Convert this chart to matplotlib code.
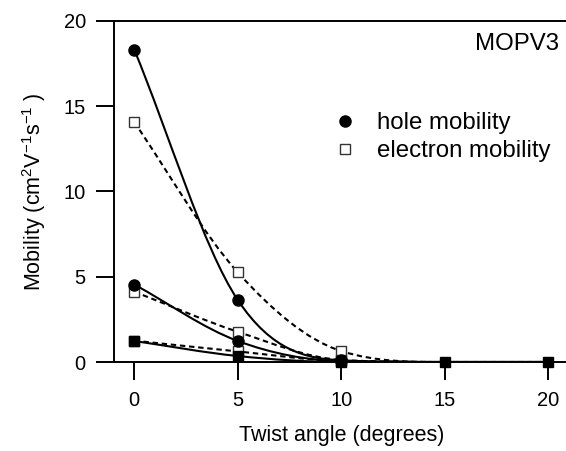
import numpy as np
import matplotlib
matplotlib.use("Agg")
import matplotlib.pyplot as plt
from matplotlib.path import Path
from matplotlib.patches import PathPatch
from matplotlib.lines import Line2D

# -----------------
# FONTS
plt.rcParams['font.family'] = ['Liberation Sans', 'DejaVu Sans']
plt.rcParams['mathtext.fontset'] = 'custom'
plt.rcParams['mathtext.rm'] = 'Liberation Sans'
plt.rcParams['mathtext.it'] = 'Liberation Sans:italic'
# -----------------

# -------------------------
# DATA
angle = [0, 5, 10, 15, 20]

hole_big = [18.3, 3.63, 0.10, 0.0, 0.0]
elec_big = [14.05, 5.25, 0.64, 0.0, 0.0]
hole_mid = [4.54, 1.23, 0.05, 0.0, 0.0]
elec_mid = [4.12, 1.77, 0.12, 0.0, 0.0]
hole_small = [1.23, 0.35, 0.0, 0.0, 0.0]
elec_small = [1.25, 0.62, 0.05, 0.0, 0.0]

xticks = [0, 5, 10, 15, 20]
yticks = [0, 5, 10, 15, 20]
# -------------------------

FS_TICK = 14.5
FS_LAB = 15.5
FS_LEG = 17.3


# -------------------------------------------------
# smooth monotone curve through the points, drawn as a bezier path
def smooth_path(xx, yy):
    xx = np.asarray(xx, float)
    yy = np.asarray(yy, float)
    n = len(xx)
    h = np.diff(xx)
    d = np.diff(yy) / h
    m = np.zeros(n)
    m[0] = d[0]
    for k in range(1, n - 1):
        if d[k - 1] * d[k] > 0:
            m[k] = (yy[k + 1] - yy[k - 1]) / (xx[k + 1] - xx[k - 1])
    # keep it monotone (Fritsch-Carlson limiter)
    for k in range(n - 1):
        if d[k] == 0:
            m[k] = m[k + 1] = 0.
            continue
        a = m[k] / d[k]
        b = m[k + 1] / d[k]
        r = a * a + b * b
        if r > 9:
            t = 3. / np.sqrt(r)
            m[k] = t * a * d[k]
            m[k + 1] = t * b * d[k]
    verts = [(xx[0], yy[0])]
    codes = [Path.MOVETO]
    for k in range(n - 1):
        verts += [(xx[k] + h[k] / 3, yy[k] + m[k] * h[k] / 3),
                  (xx[k + 1] - h[k] / 3, yy[k + 1] - m[k + 1] * h[k] / 3),
                  (xx[k + 1], yy[k + 1])]
        codes += [Path.CURVE4] * 3
    return Path(verts, codes)
# -------------------------------------------------


fig = plt.figure(figsize=(5.66, 4.51), dpi=100)
W, H = 566., 451.
x0px, x1px = 113.6, 569.0
ytop, ybot = 20.7, 362.0
ax = fig.add_axes([x0px / W, 1 - ybot / H, (x1px - x0px) / W, (ybot - ytop) / H])

ax.set_xlim(-1, 21)
ax.set_ylim(0, 20)

series = [(hole_big, '-', 'o'), (elec_big, '--', 's_open'),
          (hole_mid, '-', 'o'), (elec_mid, '--', 's_open'),
          (elec_small, '--', 's_open'), (hole_small, '-', 's')]

for yy, ls, mk in series:
    pp = PathPatch(smooth_path(angle, yy), facecolor='none', edgecolor='k',
                   lw=1.5, zorder=2)
    if ls == '--':
        pp.set_linestyle((0, (2.6, 1.8)))
    ax.add_patch(pp)

for yy, ls, mk in series:
    if mk == 'o':
        ax.plot(angle[:3], yy[:3], 'o', color='k', ms=8, clip_on=False, zorder=4)
    elif mk == 's_open':
        ax.plot(angle[:3], yy[:3], 's', mfc='white', mec='#333333', mew=1.0,
                ms=7, clip_on=False, zorder=3)
    else:
        ax.plot(angle, yy, 's', color='k', ms=7, clip_on=False, zorder=5)

# ---------- axes styling
ax.spines['right'].set_visible(False)
for s in ['left', 'top', 'bottom']:
    ax.spines[s].set_linewidth(1.4)
ax.set_xticks(xticks)
ax.set_yticks(yticks)
ax.tick_params(direction='out', length=13, width=1.4, labelsize=FS_TICK, pad=7)
ax.tick_params(axis='x', pad=8)

ax.set_xlabel("Twist angle (degrees)", fontsize=FS_LAB, labelpad=11)
ax.set_ylabel(r"Mobility (cm$^{2}$V$^{-1}$s$^{-1}$ )", fontsize=FS_LAB, labelpad=11)

fig.text(559 / W, 1 - 43.5 / H, "MOPV3", fontsize=FS_LEG, ha='right', va='center')

handles = [Line2D([], [], ls='none', marker='o', color='k', ms=8),
           Line2D([], [], ls='none', marker='s', mfc='white', mec='#333333',
                  mew=1.0, ms=7)]
fig.legend(handles, ["hole mobility", "electron mobility"], loc='upper left',
           bbox_to_anchor=(333 / W, 1 - 112 / H), frameon=False,
           fontsize=FS_LEG, handlelength=1.0, handletextpad=0.83, borderpad=0,
           borderaxespad=0, labelspacing=0.26, numpoints=1)

plt.savefig("out.png", dpi=100)
